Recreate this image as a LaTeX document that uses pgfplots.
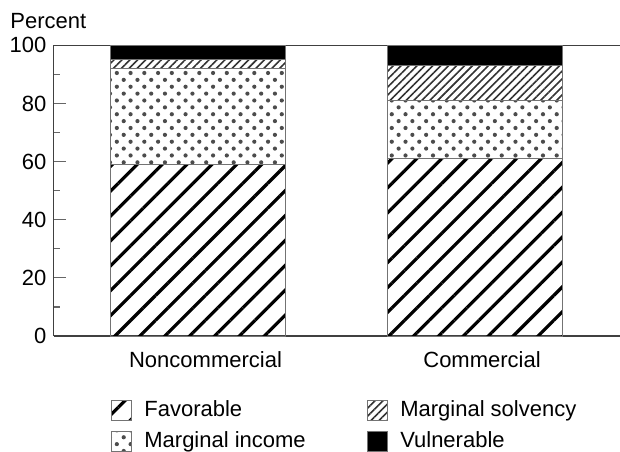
\documentclass[border=0pt]{standalone}
\usepackage{fontspec}
\setmainfont{Liberation Sans}
\usepackage{pgfplots}
\pgfplotsset{compat=1.18}
\usetikzlibrary{patterns.meta}

\begin{document}
\begin{tikzpicture}[font=\fontsize{11}{13}\selectfont]
\useasboundingbox (-26.75pt,-57.5pt) rectangle (283.25pt,168pt);
\begin{axis}[
  at={(0,0)}, anchor=south west,
  scale only axis, width=283.25pt, height=145.35pt,
  ybar stacked, bar width=87.5pt,
  xmin=-0.5226, xmax=1.526, ymin=0, ymax=100,
  axis x line*=box, axis y line*=left,
  axis line style={black!75, line width=0.6pt},
  xtick={0,1}, xticklabels={Noncommercial,Commercial},
  x tick style={draw=none},
  ytick={0,20,...,100}, minor ytick={10,30,...,90},
  tick align=inside,
  major tick length=6pt, minor tick length=3pt,
  y tick style={black!60, line width=0.6pt},
  /pgf/number format/assume math mode=true,
  x tick label style={yshift=-4pt, xshift=3.75pt},
  legend columns=2, transpose legend,
  legend cell align=left,
  legend style={draw=none, fill=none,
    at={(rel axis cs:0.09,-0.19)}, anchor=north west,
    nodes={inner sep=2.5pt, text height=8pt, text depth=2.5pt},
    /tikz/every even column/.append style={column sep=28pt}},
  legend image code/.code={
    \draw[#1, draw=black!55, line width=0.5pt] (0pt,-4.5pt) rectangle (10pt,5.5pt);
    \path[draw=none, fill=none, pattern=none] (14pt,0pt) circle (0pt);},
]
% Favorable
\addplot[draw=black!55, line width=0.5pt, pattern color=black,
  pattern={Lines[angle=45, distance=8.8pt, line width=1.6pt]}]
  coordinates {(0,59) (1,61)};
% Marginal income
\addplot[draw=black!55, line width=0.5pt, pattern color=black!70,
  pattern={Dots[angle=45, distance=4.86pt, radius=1.05pt]}]
  coordinates {(0,33) (1,20)};
% Marginal solvency
\addplot[draw=black!55, line width=0.5pt, pattern color=black!80,
  pattern={Lines[angle=45, distance=2.8pt, line width=0.8pt]}]
  coordinates {(0,3) (1,12)};
% Vulnerable
\addplot[draw=black!55, line width=0.5pt, fill=black]
  coordinates {(0,5) (1,7)};
\legend{Favorable, Marginal income, Marginal solvency, Vulnerable}
\end{axis}
\node[anchor=base west, inner sep=0pt] at (-21.75pt,153.7pt) {Percent};
\end{tikzpicture}
\end{document}
